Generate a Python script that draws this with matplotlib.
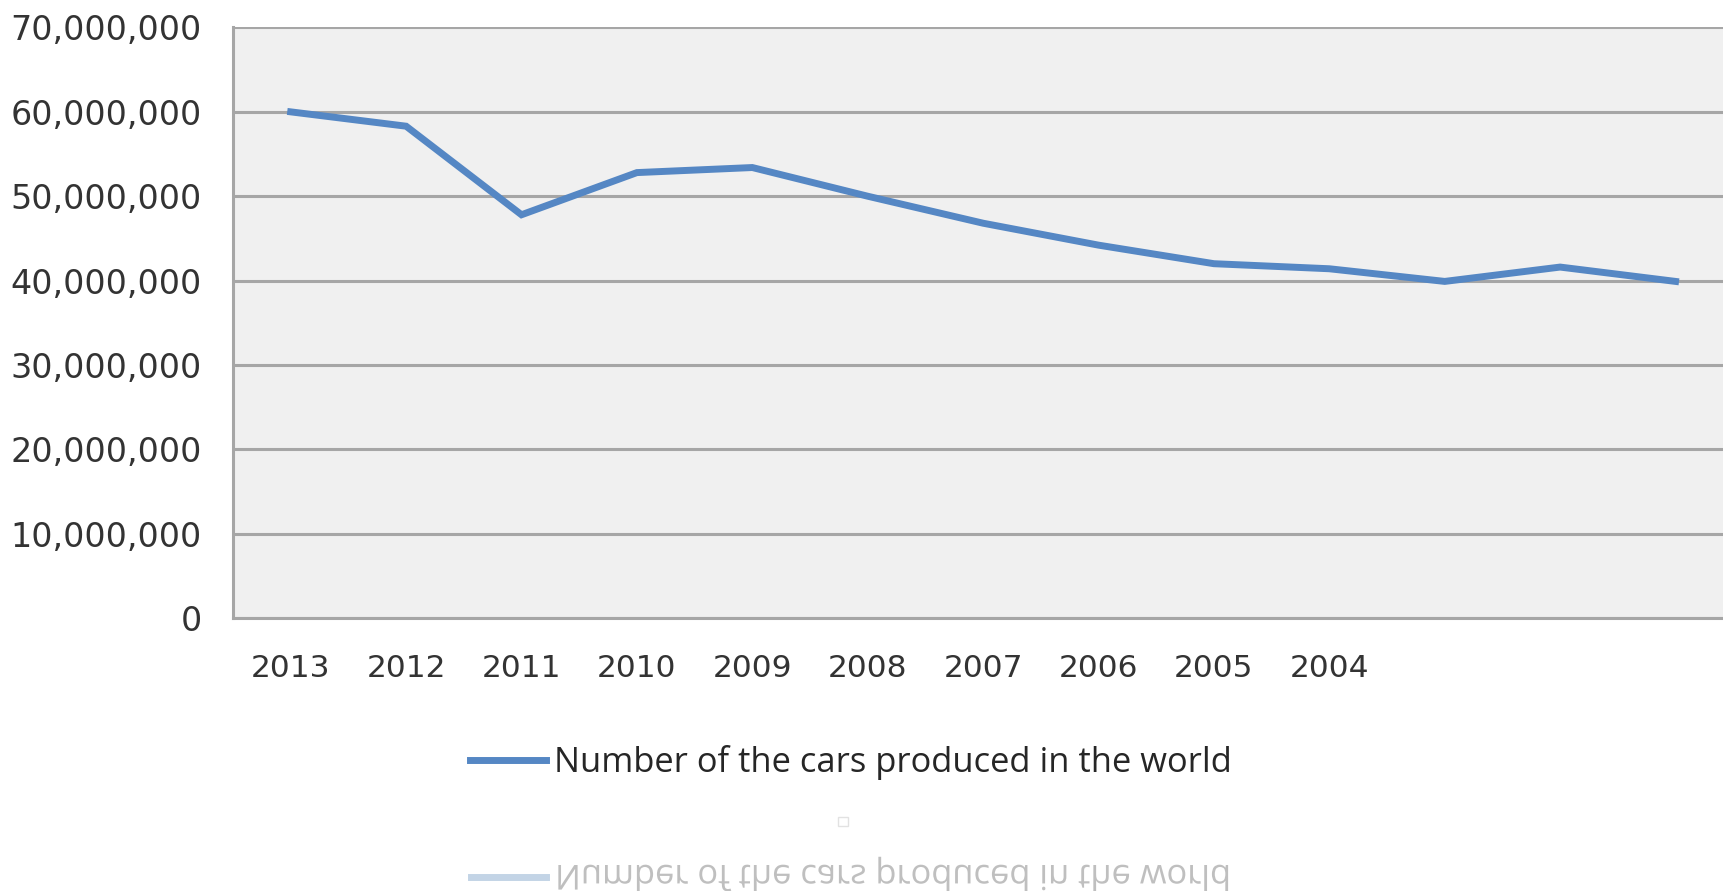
import matplotlib

matplotlib.use("Agg")
import matplotlib.pyplot as plt
from matplotlib.font_manager import FontProperties
from matplotlib.patches import PathPatch, Rectangle
from matplotlib.textpath import TextPath
from matplotlib.ticker import FuncFormatter, MultipleLocator
from matplotlib.transforms import Affine2D

# --- data ---
years = ["2013", "2012", "2011", "2010", "2009", "2008", "2007",
         "2006", "2005", "2004", "", "", ""]
cars = [60.0e6, 58.3e6, 47.8e6, 52.8e6, 53.4e6, 50.0e6, 46.8e6,
        44.2e6, 42.0e6, 41.4e6, 39.9e6, 41.6e6, 39.9e6]
label = "Number of the cars produced in the world"

LINE = "#5587c4"
GRID = "#a6a6a6"
TXT = "#333333"
W, H, DPI = 1724, 891, 100

fig = plt.figure(figsize=(W / DPI, H / DPI), dpi=DPI)
ax = fig.add_axes([233 / W, (H - 618) / H, 1 - 233 / W, (618 - 27.5) / H])
ax.set_facecolor("#f0f0f0")

xs = list(range(len(cars)))
ln, = ax.plot(xs, cars, color=LINE, lw=5, solid_joinstyle="miter", label=label, zorder=3)

ax.set_xlim(-0.5, 12.42)
ax.set_ylim(0, 70e6)
ax.yaxis.set_major_locator(MultipleLocator(10e6))
ax.yaxis.set_major_formatter(FuncFormatter(lambda v, p: f"{v:,.0f}"))
ax.set_xticks(xs)
ax.set_xticklabels(years)
ax.grid(axis="y", color=GRID, lw=2.2, zorder=1)
ax.set_axisbelow(True)
for s in ["top", "right"]:
    ax.spines[s].set_visible(False)
for s in ["left", "bottom"]:
    ax.spines[s].set_color(GRID)
    ax.spines[s].set_linewidth(2.2)
ax.tick_params(axis="y", length=0, pad=22.5, labelsize=24, labelcolor=TXT)
ax.tick_params(axis="x", length=0, pad=26, labelsize=22.5, labelcolor=TXT)

# legend under the plot
lfont = FontProperties(family="Open Sans", size=24.8)
leg = fig.legend(handles=[ln], loc="center", bbox_to_anchor=(851 / W, (H - 763) / H),
                 frameon=False, prop=lfont, handlelength=2.2, handletextpad=0.25)
for t in leg.get_texts():
    t.set_color("#262626")

# faint mirrored copy of the legend (scan artefact)
tp = TextPath((0, 0), label, prop=lfont)
tr = Affine2D().scale(1 / 72, -1 / 72).translate(555 / DPI, (H - 865) / DPI) + fig.dpi_scale_trans
fig.patches.append(PathPatch(tp, transform=tr, fc="#b0b0b0", ec="none", alpha=0.8))
fig.add_artist(plt.Line2D([471 / W, 546 / W], [(H - 877) / H] * 2, transform=fig.transFigure,
                          color="#c3d4e6", lw=5))
fig.patches.append(Rectangle((838 / W, (H - 826) / H), 10 / W, 9 / H, transform=fig.transFigure,
                             fc="none", ec="#e2e2e2", lw=1))

fig.savefig("out.png", dpi=DPI)
